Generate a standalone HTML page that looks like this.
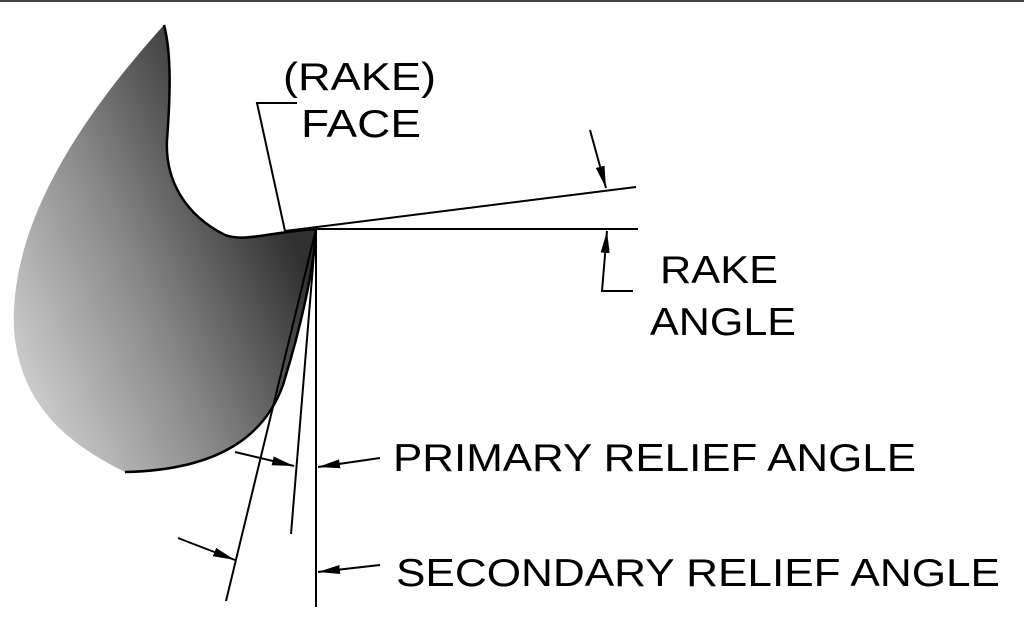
<!DOCTYPE html>
<html><head><style>html,body{margin:0;padding:0;background:#fff;}svg{display:block}</style></head>
<body>
<svg width="1024" height="634" viewBox="0 0 1024 634" xmlns="http://www.w3.org/2000/svg">
<defs>
<linearGradient id="g" gradientUnits="userSpaceOnUse" x1="20" y1="420" x2="315" y2="290">
<stop offset="0" stop-color="#d4d4d4"/><stop offset="0.5" stop-color="#8a8a8a"/><stop offset="1" stop-color="#303030"/>
</linearGradient>
<marker id="b" viewBox="0 0 22 9" refX="22" refY="4.5" markerWidth="22" markerHeight="9" markerUnits="userSpaceOnUse" orient="auto"><path d="M0,0 L22,4.5 L0,9z" fill="#000"/></marker>
</defs>
<rect x="0" y="0" width="1024" height="2" fill="#444"/>
<path d="M164,25 C172,55 170,100 167,140 C165,180 185,215 225,235 C245,242 265,233 316,229 C314,270 300,330 283,385 C265,435 220,470 125,472 C60,440 20,400 14,330 C10,240 60,140 164,25 Z" fill="url(#g)"/>
<path d="M164,25 C172,55 170,100 167,140 C165,180 185,215 225,235 C245,242 265,233 316,229 C314,270 300,330 283,385 C265,435 220,470 125,472" fill="none" stroke="#000" stroke-width="2.5"/>
<g stroke="#000" stroke-width="2" fill="none">
<line x1="316" y1="229" x2="638" y2="229"/>
<line x1="285" y1="231" x2="636" y2="187"/>
<line x1="316" y1="229" x2="316" y2="607"/>
<line x1="316" y1="229" x2="291" y2="534"/>
<line x1="316" y1="229" x2="226" y2="601"/>
<polyline points="297,103 257,103 285,231"/>
<line x1="590" y1="130" x2="606" y2="188" marker-end="url(#b)"/>
<polyline points="633,291 602,291 607,231" marker-end="url(#b)"/>
<line x1="235" y1="452" x2="294" y2="466" marker-end="url(#b)"/>
<line x1="380" y1="458" x2="318" y2="467" marker-end="url(#b)"/>
<line x1="178" y1="538" x2="235" y2="560" marker-end="url(#b)"/>
<line x1="380" y1="565" x2="318" y2="572" marker-end="url(#b)"/>
</g>
<g font-family="Liberation Sans, Arial, sans-serif" font-size="39" fill="#000">
<text x="283" y="90" textLength="153" lengthAdjust="spacingAndGlyphs">(RAKE)</text>
<text x="301" y="137" textLength="120" lengthAdjust="spacingAndGlyphs">FACE</text>
<text x="660" y="283" textLength="118" lengthAdjust="spacingAndGlyphs">RAKE</text>
<text x="650" y="335" textLength="146" lengthAdjust="spacingAndGlyphs">ANGLE</text>
<text x="393" y="471" textLength="523" lengthAdjust="spacingAndGlyphs">PRIMARY RELIEF ANGLE</text>
<text x="396" y="586" textLength="604" lengthAdjust="spacingAndGlyphs">SECONDARY RELIEF ANGLE</text>
</g>
</svg>
</body></html>
